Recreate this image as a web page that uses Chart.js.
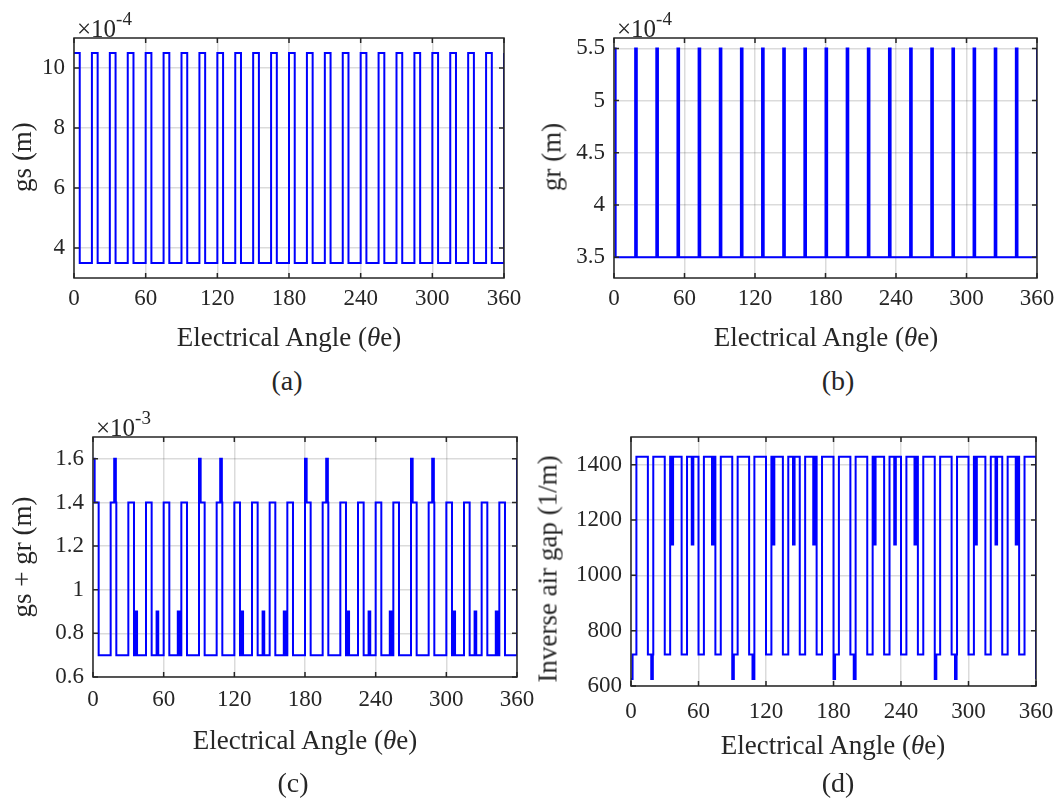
<!DOCTYPE html>
<html><head><meta charset="utf-8">
<script src="https://cdn.jsdelivr.net/npm/chart.js@4/dist/chart.umd.min.js"></script>
<style>
body{margin:0;background:#fff;width:1059px;height:803px;position:relative;overflow:hidden;font-family:'Liberation Serif','Times New Roman',serif;color:#262626}
canvas{position:absolute}
.t{position:absolute;white-space:nowrap;font-size:27px;transform:translate(-50%,-50%);line-height:1}
.p{font-size:28px}
.yl{position:absolute;white-space:nowrap;font-size:27px;transform:translate(-50%,-50%) rotate(-90deg);line-height:1}
.ex{position:absolute;font-size:25px;white-space:nowrap;line-height:1}
.ex sup{font-size:19px;position:relative;top:-3px}
</style></head><body>
<canvas id="ca"></canvas><canvas id="cb"></canvas><canvas id="cc"></canvas><canvas id="cd"></canvas>
<div class="ex" style="left:77px;top:12px">×10<sup>-4</sup></div>
<div class="ex" style="left:617px;top:12px">×10<sup>-4</sup></div>
<div class="ex" style="left:96px;top:411px">×10<sup>-3</sup></div>
<div class="t" style="left:289px;top:337px">Electrical Angle (<i>θ</i>e)</div>
<div class="t" style="left:826px;top:337px">Electrical Angle (<i>θ</i>e)</div>
<div class="t" style="left:305px;top:740px">Electrical Angle (<i>θ</i>e)</div>
<div class="t" style="left:833px;top:745px">Electrical Angle (<i>θ</i>e)</div>
<div class="t p" style="left:287px;top:381px">(a)</div>
<div class="t p" style="left:838px;top:381px">(b)</div>
<div class="t p" style="left:293px;top:783px">(c)</div>
<div class="t p" style="left:838px;top:783px">(d)</div>
<div class="yl" style="left:22px;top:157px">gs (m)</div>
<div class="yl" style="left:552px;top:157px">gr (m)</div>
<div class="yl" style="left:22px;top:557px">gs + gr (m)</div>
<div class="yl" style="left:548px;top:569px">Inverse air gap (1/m)</div>
<script>
// x axis (electrical angle, degrees)
const xTicks = [0, 60, 120, 180, 240, 300, 360];

// (a) stator air gap gs (x1e-4 m): angle where level starts, level value
const gsBreaks = [0,4.8,15,19.8,30,34.8,45,49.8,60,64.8,75,79.8,90,94.8,105,109.8,120,124.8,135,139.8,150,154.8,165,169.8,180,184.8,195,199.8,210,214.8,225,229.8,240,244.8,255,259.8,270,274.8,285,289.8,300,304.8,315,319.8,330,334.8,345,349.8,360];
const gsValues = [10.5,3.5,10.5,3.5,10.5,3.5,10.5,3.5,10.5,3.5,10.5,3.5,10.5,3.5,10.5,3.5,10.5,3.5,10.5,3.5,10.5,3.5,10.5,3.5,10.5,3.5,10.5,3.5,10.5,3.5,10.5,3.5,10.5,3.5,10.5,3.5,10.5,3.5,10.5,3.5,10.5,3.5,10.5,3.5,10.5,3.5,10.5,3.5,10.5];
const gsTicks = [4, 6, 8, 10];
const gsTickLabels = ['4', '6', '8', '10'];

// (b) rotor air gap gr (x1e-4 m)
const grBreaks = [0,1.4,18,19.4,36,37.4,54,55.4,72,73.4,90,91.4,108,109.4,126,127.4,144,145.4,162,163.4,180,181.4,198,199.4,216,217.4,234,235.4,252,253.4,270,271.4,288,289.4,306,307.4,324,325.4,342,343.4,360];
const grValues = [5.5,3.5,5.5,3.5,5.5,3.5,5.5,3.5,5.5,3.5,5.5,3.5,5.5,3.5,5.5,3.5,5.5,3.5,5.5,3.5,5.5,3.5,5.5,3.5,5.5,3.5,5.5,3.5,5.5,3.5,5.5,3.5,5.5,3.5,5.5,3.5,5.5,3.5,5.5,3.5,5.5];
const grTicks = [3.5, 4, 4.5, 5, 5.5];
const grTickLabels = ['3.5', '4', '4.5', '5', '5.5'];

// (c) gs + gr (x1e-3 m) and (d) inverse air gap (1/m) share these breaks
const sumBreaks = [0,1.4,4.8,15,18,19.4,19.8,30,34.8,36,37.4,45,49.8,54,55.4,60,64.8,72,73.4,75,79.8,
  90,91.4,94.8,105,108,109.4,109.8,120,124.8,126,127.4,135,139.8,144,145.4,150,154.8,162,163.4,165,169.8,
  180,181.4,184.8,195,198,199.4,199.8,210,214.8,216,217.4,225,229.8,234,235.4,240,244.8,252,253.4,255,259.8,
  270,271.4,274.8,285,288,289.4,289.8,300,304.8,306,307.4,315,319.8,324,325.4,330,334.8,342,343.4,345,349.8,360];
const sumValues = [1.6,1.4,0.7,1.4,1.6,1.4,0.7,1.4,0.7,0.9,0.7,1.4,0.7,0.9,0.7,1.4,0.7,0.9,0.7,1.4,0.7,
  1.6,1.4,0.7,1.4,1.6,1.4,0.7,1.4,0.7,0.9,0.7,1.4,0.7,0.9,0.7,1.4,0.7,0.9,0.7,1.4,0.7,
  1.6,1.4,0.7,1.4,1.6,1.4,0.7,1.4,0.7,0.9,0.7,1.4,0.7,0.9,0.7,1.4,0.7,0.9,0.7,1.4,0.7,
  1.6,1.4,0.7,1.4,1.6,1.4,0.7,1.4,0.7,0.9,0.7,1.4,0.7,0.9,0.7,1.4,0.7,0.9,0.7,1.4,0.7,1.6];
const sumTicks = [0.6, 0.8, 1, 1.2, 1.4, 1.6];
const sumTickLabels = ['0.6', '0.8', '1', '1.2', '1.4', '1.6'];

const invValues = [625,714,1429,714,625,714,1429,714,1429,1111,1429,714,1429,1111,1429,714,1429,1111,1429,714,1429,
  625,714,1429,714,625,714,1429,714,1429,1111,1429,714,1429,1111,1429,714,1429,1111,1429,714,1429,
  625,714,1429,714,625,714,1429,714,1429,1111,1429,714,1429,1111,1429,714,1429,1111,1429,714,1429,
  625,714,1429,714,625,714,1429,714,1429,1111,1429,714,1429,1111,1429,714,1429,1111,1429,714,1429,625];
const invTicks = [600, 800, 1000, 1200, 1400];
const invTickLabels = ['600', '800', '1000', '1200', '1400'];

function stepPoints(breaks, values) {
  const pts = [];
  for (let i = 0; i < breaks.length; i++) {
    if (i > 0) pts.push({x: breaks[i], y: values[i - 1]});
    pts.push({x: breaks[i], y: values[i]});
  }
  return pts;
}

const frame = {
  id: 'frame',
  afterDatasetsDraw(chart) {
    const {ctx, chartArea: a, scales: {x, y}} = chart;
    ctx.save();
    ctx.strokeStyle = '#262626';
    ctx.lineWidth = 1.5;
    const L = 5;
    ctx.beginPath();
    x.ticks.forEach(t => {
      const p = x.getPixelForValue(t.value);
      ctx.moveTo(p, a.bottom); ctx.lineTo(p, a.bottom - L);
      ctx.moveTo(p, a.top); ctx.lineTo(p, a.top + L);
    });
    y.ticks.forEach(t => {
      const p = y.getPixelForValue(t.value);
      ctx.moveTo(a.left, p); ctx.lineTo(a.left + L, p);
      ctx.moveTo(a.right, p); ctx.lineTo(a.right - L, p);
    });
    ctx.stroke();
    ctx.strokeRect(a.left, a.top, a.right - a.left, a.bottom - a.top);
    ctx.restore();
  }
};

const FONT = {family: "Liberation Serif, Times New Roman, serif", size: 23};
const YW = 80, XH = 50, PT = 12, PR = 30;

function makePanel(id, box, breaks, values, yMin, yMax, yTicks, yLabels, xPad) {
  const cv = document.getElementById(id);
  const W = box.w + YW + PR, H = box.h + PT + XH;
  cv.width = W; cv.height = H;
  cv.style.width = W + 'px'; cv.style.height = H + 'px';
  cv.style.left = (box.left - YW) + 'px';
  cv.style.top = (box.top - PT) + 'px';
  new Chart(cv, {
    type: 'line',
    data: {datasets: [{
      data: stepPoints(breaks, values),
      borderColor: '#0000ff', borderWidth: 2, pointRadius: 0, fill: false,
      tension: 0, borderJoinStyle: 'miter', borderCapStyle: 'butt'
    }]},
    options: {
      responsive: false, animation: false, devicePixelRatio: 1,
      layout: {padding: {left: 0, top: PT, right: PR, bottom: 0}},
      plugins: {legend: {display: false}, tooltip: {enabled: false}},
      scales: {
        x: {
          type: 'linear', min: 0, max: 360,
          afterBuildTicks: s => { s.ticks = xTicks.map(v => ({value: v})); },
          afterFit: s => { s.height = XH; s.paddingLeft = 0; s.paddingRight = 0; },
          grid: {color: 'rgba(0,0,0,0.14)', lineWidth: 1.5, drawTicks: false},
          border: {display: false},
          ticks: {font: FONT, color: '#262626', padding: xPad, maxRotation: 0, autoSkip: false,
                  callback: v => String(v)}
        },
        y: {
          type: 'linear', min: yMin, max: yMax,
          afterBuildTicks: s => { s.ticks = yTicks.map(v => ({value: v})); },
          afterFit: s => { s.width = YW; s.paddingTop = 0; s.paddingBottom = 0; },
          grid: {color: 'rgba(0,0,0,0.14)', lineWidth: 1.5, drawTicks: false},
          border: {display: false},
          ticks: {font: FONT, color: '#262626', padding: 9, autoSkip: false,
                  callback: v => yLabels[yTicks.indexOf(v)]}
        }
      }
    },
    plugins: [frame]
  });
}

makePanel('ca', {left: 74, top: 38, w: 430, h: 240}, gsBreaks, gsValues, 3, 11, gsTicks, gsTickLabels, 7);
makePanel('cb', {left: 614, top: 38, w: 423, h: 240}, grBreaks, grValues, 3.3, 5.6, grTicks, grTickLabels, 7);
makePanel('cc', {left: 93, top: 437, w: 424, h: 240}, sumBreaks, sumValues, 0.6, 1.7, sumTicks, sumTickLabels, 9);
makePanel('cd', {left: 631, top: 437, w: 405, h: 249}, sumBreaks, invValues, 600, 1500, invTicks, invTickLabels, 12);
</script>
</body></html>
